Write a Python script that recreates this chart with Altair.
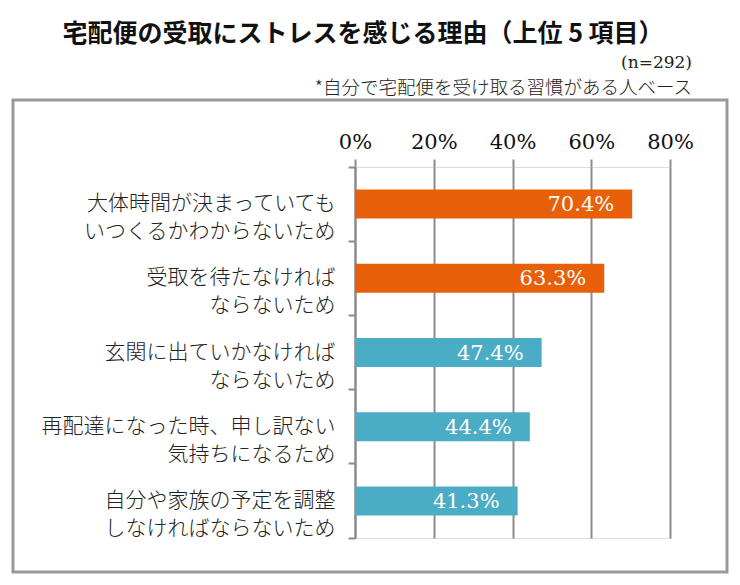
import altair as alt
import pandas as pd

categories = [
    "大体時間が決まっていても\nいつくるかわからないため",
    "受取を待たなければ\nならないため",
    "玄関に出ていかなければ\nならないため",
    "再配達になった時、申し訳ない\n気持ちになるため",
    "自分や家族の予定を調整\nしなければならないため",
]
values = [70.4, 63.3, 47.4, 44.4, 41.3]
tick_values = [0, 20, 40, 60, 80]

title_text = "宅配便の受取にストレスを感じる理由（上位 5 項目）"
n_text = "(n=292)"
note_text = "*自分で宅配便を受け取る習慣がある人ベース"

ORANGE = "#E8600A"
TEAL = "#4BACC6"
GRAY = "#8C8C8C"
SERIF = "DejaVu Serif"
JP = "Noto Sans CJK JP"

df = pd.DataFrame({"cat": categories, "value": values})
one = pd.DataFrame({"k": [0]})

W, H = 315, 371

y_enc = alt.Y(
    "cat:N",
    sort=categories,
    title=None,
    scale=alt.Scale(paddingInner=0, paddingOuter=0),
    axis=alt.Axis(
        labelExpr="split(datum.label, '\\n')",
        labelFont=JP,
        labelFontSize=21,
        labelFontWeight=300,
        labelColor="#222222",
        labelLineHeight=28,
        labelPadding=13,
        labelLimit=400,
        domain=True,
        domainColor=GRAY,
        domainWidth=2,
        ticks=True,
        tickSize=7,
        tickColor=GRAY,
        tickWidth=2,
        bandPosition=1,
        tickExtra=True,
        grid=False,
    ),
)

x_enc = alt.X(
    "value:Q",
    title=None,
    scale=alt.Scale(domain=[0, 80], nice=False),
    axis=alt.Axis(
        orient="top",
        values=tick_values,
        labelExpr="datum.value + '%'",
        labelFont=SERIF,
        labelFontSize=21,
        labelColor="#111111",
        labelPadding=7,
        labelFlush=False,
        labelOverlap=False,
        domain=False,
        ticks=True,
        tickSize=8,
        tickColor=GRAY,
        tickWidth=2,
        grid=True,
        gridColor=GRAY,
        gridWidth=2,
    ),
)

bars = alt.Chart(df).mark_bar(size=29).encode(
    x=x_enc,
    y=y_enc,
    color=alt.condition(alt.datum.value > 50, alt.value(ORANGE), alt.value(TEAL)),
)

labels = alt.Chart(df).transform_calculate(
    label="format(datum.value, '.1f') + '%'"
).mark_text(
    align="right", baseline="middle", dx=-18, dy=1,
    font=SERIF, fontSize=21, color="white"
).encode(
    x="value:Q",
    y=alt.Y("cat:N", sort=categories),
    text="label:N",
)

box = alt.Chart(one).mark_rect(fill=None, stroke="#999999", strokeWidth=3).encode(
    x=alt.value(-342), x2=alt.value(372), y=alt.value(-67), y2=alt.value(405)
)

title = alt.Chart(one).mark_text(
    font=JP, fontSize=25, fontWeight="bold", align="center", baseline="middle", color="#111111"
).encode(x=alt.value(8), y=alt.value(-133), text=alt.value(title_text))

ntext = alt.Chart(one).mark_text(
    font=SERIF, fontSize=17, align="right", baseline="middle", color="#222222"
).encode(x=alt.value(337), y=alt.value(-104), text=alt.value(n_text))

note = alt.Chart(one).mark_text(
    font=JP, fontSize=18.5, fontWeight=300, align="right", baseline="middle", color="#222222"
).encode(x=alt.value(337), y=alt.value(-79), text=alt.value(note_text))

chart = alt.layer(box, bars, labels, title, ntext, note).properties(
    width=W,
    height=H,
    autosize=alt.AutoSizeParams(type="none"),
    padding={"left": 347, "top": 159, "right": 62, "bottom": 38},
).configure_view(stroke=None).configure(background="white")

chart.save("out.html", embed_options={"renderer": "svg", "actions": False})
